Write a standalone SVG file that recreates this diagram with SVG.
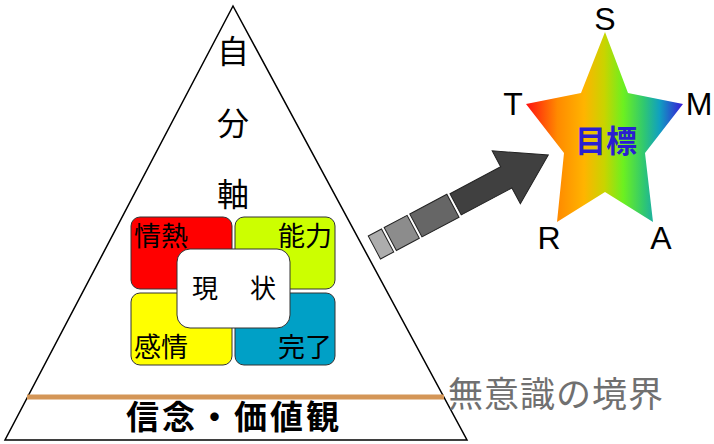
<svg xmlns="http://www.w3.org/2000/svg" width="714" height="444" viewBox="0 0 714 444">
<defs>
<style>
.jp{font-family:"Noto Sans CJK JP","Noto Sans CJK SC",sans-serif;fill:#000}
.lat{font-family:"Liberation Sans",Arial,sans-serif;font-size:32px;fill:#000}
.q{stroke:#333;stroke-width:1}
.seg{stroke:#222;stroke-width:1}
</style>
<linearGradient id="rainbow" gradientUnits="userSpaceOnUse" x1="526" y1="0" x2="683" y2="0">
<stop offset="0" stop-color="#FF1010"/>
<stop offset="0.2" stop-color="#FF8A00"/>
<stop offset="0.37" stop-color="#FFB400"/>
<stop offset="0.5" stop-color="#C8D400"/>
<stop offset="0.62" stop-color="#6CF020"/>
<stop offset="0.75" stop-color="#30C870"/>
<stop offset="0.85" stop-color="#10A0C0"/>
<stop offset="1" stop-color="#3818D8"/>
</linearGradient>
</defs>
<rect width="714" height="444" fill="#fff"/>

<g id="pyramid">
<polygon points="233,6 5,440 467,440" fill="#fff" stroke="#000" stroke-width="1.5"/>
<line x1="27" y1="397" x2="444" y2="397" stroke="#D49657" stroke-width="5"/>
<text class="jp" x="233" y="63" font-size="32" text-anchor="middle">自</text>
<text class="jp" x="233" y="135" font-size="32" text-anchor="middle">分</text>
<text class="jp" x="233" y="206" font-size="32" text-anchor="middle">軸</text>
<text class="jp" x="126" y="429" font-size="33" font-weight="bold" letter-spacing="3">信念・価値観</text>
</g>

<g id="boundary-label">
<text class="jp" x="448" y="407" font-size="35" letter-spacing="1" style="fill:#707070">無意識の境界</text>
</g>

<g id="q-passion">
<rect class="q" x="131" y="217" width="101" height="72" rx="9" fill="#FF0000"/>
<text class="jp" x="134" y="246" font-size="27">情熱</text>
</g>
<g id="q-ability">
<rect class="q" x="235" y="217" width="100" height="72" rx="9" fill="#CCFF00"/>
<text class="jp" x="332" y="246" font-size="27" text-anchor="end">能力</text>
</g>
<g id="q-emotion">
<rect class="q" x="131" y="293" width="101" height="72" rx="9" fill="#FFFF00"/>
<text class="jp" x="134" y="357" font-size="27">感情</text>
</g>
<g id="q-complete">
<rect class="q" x="235" y="293" width="100" height="72" rx="9" fill="#00A0C6"/>
<text class="jp" x="332" y="357" font-size="27" text-anchor="end">完了</text>
</g>
<g id="current">
<rect class="q" x="177" y="249" width="113" height="79" rx="13" fill="#fff"/>
<text class="jp" x="205" y="298" font-size="26" text-anchor="middle">現</text>
<text class="jp" x="263" y="298" font-size="26" text-anchor="middle">状</text>
</g>

<g id="connectors">
<g transform="translate(548.3,155) rotate(-28)">
<rect class="seg" x="-197" y="-13" width="15" height="26" fill="#ADADAD"/>
<rect class="seg" x="-179" y="-13" width="26" height="26" fill="#8C8C8C"/>
<rect class="seg" x="-150" y="-13" width="42" height="26" fill="#666666"/>
<polygon class="seg" points="-105,-12 -47.6,-12 -47.6,-30 0,0 -47.6,30 -47.6,12 -105,12" fill="#404040"/>
</g>
</g>

<g id="goal">
<polygon points="605,32 628,93 683,104 645,153 653,222 605,192 557,222 564,153 526,104 581,93" fill="url(#rainbow)"/>
<text class="jp" x="606" y="152" font-size="31" font-weight="bold" text-anchor="middle" style="fill:#2A1FD0">目標</text>
<text class="lat" x="605" y="30" text-anchor="middle">S</text>
<text class="lat" x="513" y="115" text-anchor="middle">T</text>
<text class="lat" x="699" y="115" text-anchor="middle">M</text>
<text class="lat" x="549" y="249" text-anchor="middle">R</text>
<text class="lat" x="661" y="249" text-anchor="middle">A</text>
</g>
</svg>
